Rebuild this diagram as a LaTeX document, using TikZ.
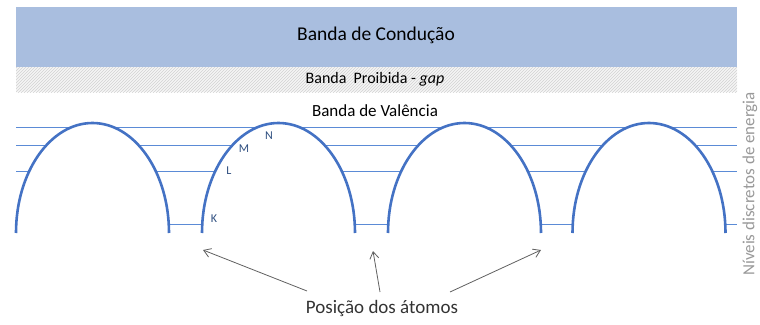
\documentclass[tikz,border=0pt]{standalone}
\usepackage{fontspec}
\setmainfont{Carlito}
\usetikzlibrary{patterns,arrows.meta}
\definecolor{cband}{HTML}{A9BEDF}
\definecolor{archblue}{HTML}{4472C4}
\definecolor{lineblue}{HTML}{5B8BD6}
\definecolor{lblblue}{HTML}{2F4F80}
\definecolor{arrgray}{HTML}{606060}
\begin{document}
\begin{tikzpicture}[x=1pt,y=-1pt,
  level/.style={draw=lineblue, line width=1.2pt},
  arch/.style={draw=archblue, line width=2.6pt, fill=white},
  shell/.style={text=lblblue, font=\fontsize{12}{14}\selectfont, inner sep=0pt},
  pointer/.style={draw=arrgray, line width=0.8pt, -{Straight Barb[length=7pt,width=9pt]}}]
\useasboundingbox (0,0) rectangle (760,324);
% bands
\fill[cband] (16,7) rectangle (737,67);
\fill[gray!8] (16,67) rectangle (737,92);
\fill[pattern=north east lines, pattern color=gray!35] (16,67) rectangle (737,92);
\node[font=\fontsize{19.5}{23}\selectfont] (cond) at (376,35) {Banda de Condução};
\node[font=\fontsize{16}{19}\selectfont] (gap) at (375,79) {Banda\ \ Proibida - \textit{gap}};
\node[font=\fontsize{17}{20}\selectfont] (val) at (375,111) {Banda de Valência};
% energy levels
\draw[level] (16,127.5) coordinate (n0) -- (737,127.5) coordinate (n1);
\draw[level] (16,145.5) coordinate (m0) -- (737,145.5) coordinate (m1);
\draw[level] (16,171.5) coordinate (l0) -- (737,171.5) coordinate (l1);
\draw[level] (16,224.5) coordinate (k0) -- (737,224.5) coordinate (k1);
% arches
\foreach \c/\nm in {92.5/a1,278.5/a2,464.5/a3,649/a4}{
  \draw[arch] (\c-76.5,233) arc[start angle=180,end angle=0,x radius=76.5,y radius=-110];
  \coordinate (\nm) at (\c,233);
}
% shell labels
\node[shell] (N) at (269,136) {N};
\node[shell] (M) at (244,149) {M};
\node[shell] (L) at (229,171) {L};
\node[shell] (K) at (214,219) {K};
% atoms positions
\node[font=\fontsize{19}{22}\selectfont, text=black!80] (pos) at (382,308) {Posição dos átomos};
\coordinate (t1) at (203,250);
\coordinate (t2) at (373,251);
\coordinate (t3) at (541,250);
\draw[pointer] (307,291) -- (t1);
\draw[pointer] (380,292) -- (t2);
\draw[pointer] (450,292) -- (t3);
% vertical label
\node[rotate=90, anchor=west, font=\fontsize{17}{20}\selectfont, text=gray!80, inner sep=0pt] (niv) at (750,276) {Níveis discretos de energia};
\end{tikzpicture}
\end{document}
